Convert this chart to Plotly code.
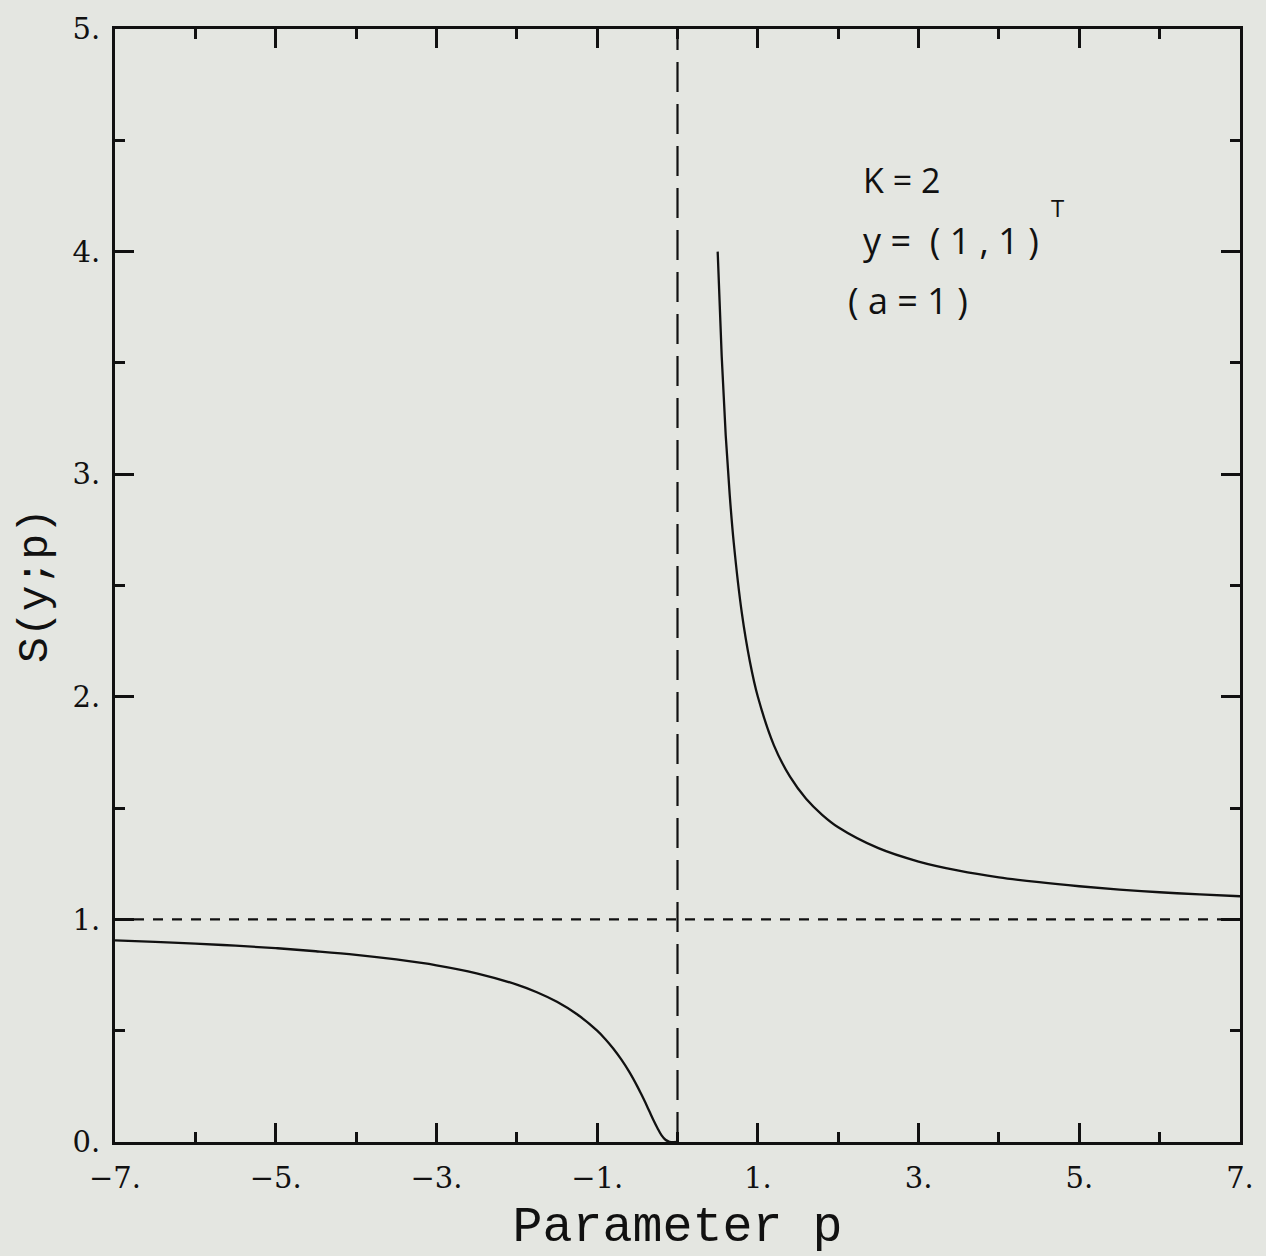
import plotly.graph_objects as go

# Left branch (p < 0)
p_left = [-7.0, -6.5, -6.0, -5.5, -5.0, -4.5, -4.0, -3.5, -3.0, -2.5, -2.0, -1.75,
          -1.5, -1.25, -1.0, -0.9, -0.8, -0.7, -0.6, -0.5, -0.45, -0.4, -0.35,
          -0.3, -0.25, -0.2, -0.15, -0.1, 0.0]
s_left = [0.906, 0.899, 0.891, 0.882, 0.871, 0.857, 0.841, 0.820, 0.794, 0.758,
          0.707, 0.673, 0.630, 0.574, 0.500, 0.463, 0.420, 0.371, 0.315, 0.250,
          0.214, 0.177, 0.138, 0.099, 0.063, 0.031, 0.010, 0.001, 0.0]

# Right branch (p > 0)
p_right = [0.5, 0.55, 0.6, 0.65, 0.7, 0.8, 0.9, 1.0, 1.2, 1.4, 1.6, 1.8, 2.0, 2.5,
           3.0, 3.5, 4.0, 4.5, 5.0, 5.5, 6.0, 6.5, 7.0]
s_right = [4.00, 3.53, 3.175, 2.906, 2.692, 2.378, 2.160, 2.000, 1.782, 1.641,
           1.542, 1.470, 1.414, 1.320, 1.260, 1.219, 1.189, 1.167, 1.149, 1.134,
           1.122, 1.112, 1.104]

x_tickvals = [-7, -5, -3, -1, 1, 3, 5, 7]
x_ticktext = ["\u22127.", "\u22125.", "\u22123.", "\u22121.", "1.", "3.", "5.", "7."]
y_tickvals = [0, 1, 2, 3, 4, 5]
y_ticktext = ["0.", "1.", "2.", "3.", "4.", "5."]

ref_x = [0.0]
ref_y = [1.0]

notes = ["K = 2", "y =  ( 1 , 1 )", "( a = 1 )", "T"]
note_x = [2.28, 2.28, 2.10, 4.62]
note_y = [4.32, 4.05, 3.78, 4.20]
note_size = [34, 36, 36, 24]

bg = "#e4e6e1"
ink = "#111111"

fig = go.Figure()
fig.add_trace(go.Scatter(x=p_left, y=s_left, mode="lines",
                         line=dict(color=ink, width=2.3, shape="spline"),
                         showlegend=False, hoverinfo="skip"))
fig.add_trace(go.Scatter(x=p_right, y=s_right, mode="lines",
                         line=dict(color=ink, width=2.3, shape="spline"),
                         showlegend=False, hoverinfo="skip"))

# Reference dashed lines
fig.add_trace(go.Scatter(x=[-7, 7], y=[ref_y[0], ref_y[0]], mode="lines",
                         line=dict(color=ink, width=2.2, dash="10px,9px"),
                         showlegend=False, hoverinfo="skip"))
fig.add_trace(go.Scatter(x=[ref_x[0], ref_x[0]], y=[0, 5], mode="lines",
                         line=dict(color=ink, width=2.2, dash="30px,12px"),
                         showlegend=False, hoverinfo="skip"))

for t, xx, yy, sz in zip(notes, note_x, note_y, note_size):
    fig.add_annotation(x=xx, y=yy, text=t, showarrow=False, xanchor="left",
                       font=dict(family="Open Sans", size=sz, color=ink))

fig.update_layout(
    width=1266, height=1256,
    margin=dict(l=115, r=26, t=23, b=113),
    paper_bgcolor=bg, plot_bgcolor=bg,
    showlegend=False,
)
fig.update_xaxes(
    range=[-7, 7], showgrid=False, zeroline=False,
    showline=True, linecolor=ink, linewidth=3, mirror="ticks",
    ticks="inside", ticklen=19, tickwidth=2.5, tickcolor=ink,
    tickvals=x_tickvals, ticktext=x_ticktext,
    tickfont=dict(family="DejaVu Serif", size=29, color=ink),
    ticklabelstandoff=8,
    minor=dict(dtick=1, tick0=-7, ticks="inside", ticklen=10, tickwidth=2.5, tickcolor=ink),
    title=dict(text="Parameter p", standoff=14,
               font=dict(family="Liberation Mono", size=50, color=ink)),
)
fig.update_yaxes(
    range=[0, 5], showgrid=False, zeroline=False,
    showline=True, linecolor=ink, linewidth=3, mirror="ticks",
    ticks="inside", ticklen=19, tickwidth=2.5, tickcolor=ink,
    tickvals=y_tickvals, ticktext=y_ticktext,
    tickfont=dict(family="DejaVu Serif", size=29, color=ink),
    ticklabelstandoff=6,
    minor=dict(dtick=0.5, tick0=0, ticks="inside", ticklen=10, tickwidth=2.5, tickcolor=ink),
    title=dict(text="S(y;p)", standoff=12,
               font=dict(family="Liberation Mono", size=43, color=ink)),
)

fig.write_html(
    "out.html",
    config={"displayModeBar": False},
    post_script="document.body.style.margin='0';document.body.style.background='#e4e6e1';",
)
